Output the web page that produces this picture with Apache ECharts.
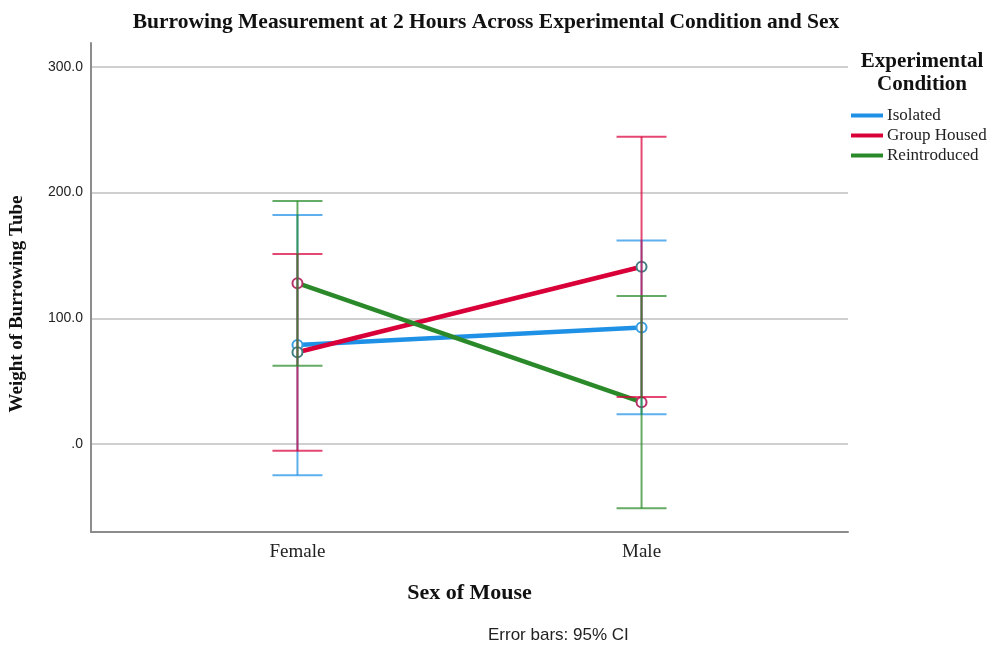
<!DOCTYPE html>
<html><head><meta charset="utf-8">
<script src="https://cdn.jsdelivr.net/npm/echarts@6/dist/echarts.min.js"></script>
<style>html,body{margin:0;padding:0;background:#fff}#c{width:998px;height:647px}</style>
</head><body><div id="c"></div>
<script>
// ---- data ----
const categories = ['Female', 'Male'];
const seriesNames = ['Isolated', 'Group Housed', 'Reintroduced'];
const isolatedMean = [78.7, 92.7];
const isolatedLower = [-24.9, 23.6];
const isolatedUpper = [182.2, 161.8];
const groupMean = [73.0, 141.0];
const groupLower = [-5.3, 37.4];
const groupUpper = [151.2, 244.5];
const reintroMean = [127.9, 33.3];
const reintroLower = [62.3, -51.2];
const reintroUpper = [193.4, 117.8];
const yTicks = [0, 100, 200, 300];

// ---- styling ----
const lineColors = ['#1e90e6', '#d9003a', '#2a8a2a'];
const markerColors = ['#3a9fe0', '#3f7f82', '#b8336a'];
const serif = 'Liberation Serif';
const sans = 'Liberation Sans';

const groups = [
  {mean: isolatedMean, lo: isolatedLower, hi: isolatedUpper},
  {mean: groupMean, lo: groupLower, hi: groupUpper},
  {mean: reintroMean, lo: reintroLower, hi: reintroUpper}
];

function makeErr(color) {
  return function (params, api) {
    const x = api.value(0), lo = api.value(1), hi = api.value(2);
    const pLo = api.coord([x, lo]), pHi = api.coord([x, hi]);
    const hw = 25;
    const style = {stroke: color, lineWidth: 2, opacity: 0.72};
    return {type: 'group', children: [
      {type: 'line', shape: {x1: pLo[0], y1: pLo[1], x2: pHi[0], y2: pHi[1]}, style: style},
      {type: 'line', shape: {x1: pLo[0] - hw, y1: pLo[1], x2: pLo[0] + hw, y2: pLo[1]}, style: style},
      {type: 'line', shape: {x1: pHi[0] - hw, y1: pHi[1], x2: pHi[0] + hw, y2: pHi[1]}, style: style}
    ]};
  };
}

const series = [];
groups.forEach((g, i) => {
  series.push({
    name: seriesNames[i], type: 'line',
    data: categories.map((c, k) => [k, g.mean[k]]),
    lineStyle: {color: lineColors[i], width: 4.5},
    symbol: 'emptyCircle', symbolSize: 10,
    itemStyle: {color: markerColors[i], borderColor: markerColors[i], borderWidth: 1.5},
    z: 3, silent: true
  });
});
groups.forEach((g, i) => {
  series.push({
    name: seriesNames[i] + ' CI', type: 'custom',
    renderItem: makeErr(lineColors[i]),
    data: categories.map((c, k) => [k, g.lo[k], g.hi[k]]),
    encode: {x: 0, y: [1, 2]}, z: 4, silent: true
  });
});

const chart = echarts.init(document.getElementById('c'), null, {renderer: 'canvas'});
chart.setOption({
  animation: false,
  backgroundColor: '#fff',
  title: {
    text: 'Burrowing Measurement at 2 Hours Across Experimental Condition and Sex',
    left: 481, top: 6, textAlign: 'center',
    textStyle: {fontFamily: serif, fontWeight: 'bold', fontSize: 21.5, color: '#111'}
  },
  grid: {left: 91, right: 150, top: 43, bottom: 115},
  xAxis: {
    type: 'value', min: -0.6, max: 1.6,
    axisLine: {show: true, onZero: false, lineStyle: {color: '#8c8c8c', width: 2}},
    axisTick: {show: false},
    splitLine: {show: false},
    axisLabel: {
      customValues: [0, 1],
      formatter: v => categories[Math.round(v)] || '',
      fontFamily: serif, fontSize: 19, color: '#222', margin: 11
    },
    name: 'Sex of Mouse', nameLocation: 'middle', nameGap: 50,
    nameTextStyle: {fontFamily: serif, fontWeight: 'bold', fontSize: 22, color: '#111'}
  },
  yAxis: {
    type: 'value', min: -70, max: 319,
    axisLine: {show: true, onZero: false, lineStyle: {color: '#8c8c8c', width: 2}},
    axisTick: {show: false, customValues: yTicks},
    splitLine: {show: true, lineStyle: {color: '#cfcfcf', width: 2}},
    axisLabel: {
      customValues: yTicks,
      formatter: v => v === 0 ? '.0' : v.toFixed(1),
      fontFamily: sans, fontSize: 14, color: '#222', margin: 8
    }
  },
  legend: {
    left: 846, top: 102, orient: 'vertical',
    icon: 'rect', itemWidth: 32, itemHeight: 4, itemGap: 3,
    textStyle: {fontFamily: serif, fontSize: 17, color: '#222', padding: [0, 0, 0, -1]},
    data: seriesNames.map((n, i) => ({name: n, itemStyle: {color: lineColors[i], borderColor: lineColors[i], borderWidth: 0}}))
  },
  graphic: [
    {type: 'text', rotation: Math.PI / 2, x: 17, y: 304, style: {text: 'Weight of Burrowing Tube', x: 0, y: 0, align: 'center', verticalAlign: 'middle', font: 'bold 19px "Liberation Serif"', fill: '#111'}},
    {type: 'text', style: {text: 'Experimental', x: 922, y: 62, align: 'center', verticalAlign: 'middle', font: 'bold 21px "Liberation Serif"', fill: '#111'}},
    {type: 'text', style: {text: 'Condition', x: 922, y: 85, align: 'center', verticalAlign: 'middle', font: 'bold 21px "Liberation Serif"', fill: '#111'}},
    {type: 'text', style: {text: 'Error bars: 95% CI', x: 488, y: 635, align: 'left', verticalAlign: 'middle', font: '17px "Liberation Sans"', fill: '#222'}}
  ],
  series: series
});
</script></body></html>
